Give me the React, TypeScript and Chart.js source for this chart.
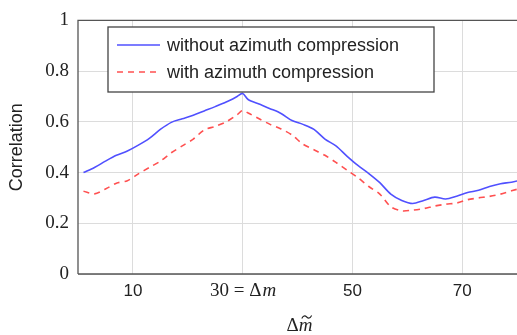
import React, { useEffect, useRef } from "react";
import { Chart, registerables } from "chart.js";

Chart.register(...registerables);

const xValues = [1, 3, 5, 7, 9, 11, 13, 15, 17, 19, 21, 23, 25, 27, 29, 30, 31, 33, 35, 37, 39, 41, 43, 45, 47, 49, 51, 53, 55, 57, 59, 61, 63, 65, 67, 69, 71, 73, 75, 77, 79, 81];

const withoutCompression = [0.400, 0.420, 0.445, 0.468, 0.485, 0.508, 0.535, 0.570, 0.598, 0.612, 0.626, 0.643, 0.660, 0.678, 0.700, 0.712, 0.688, 0.670, 0.652, 0.633, 0.605, 0.590, 0.570, 0.532, 0.505, 0.465, 0.428, 0.396, 0.360, 0.315, 0.290, 0.278, 0.290, 0.303, 0.296, 0.307, 0.321, 0.330, 0.345, 0.356, 0.362, 0.372];

const withCompression = [0.326, 0.316, 0.335, 0.358, 0.368, 0.395, 0.420, 0.445, 0.478, 0.505, 0.532, 0.568, 0.582, 0.600, 0.628, 0.645, 0.635, 0.612, 0.590, 0.572, 0.548, 0.512, 0.490, 0.468, 0.440, 0.410, 0.380, 0.345, 0.315, 0.265, 0.249, 0.252, 0.258, 0.268, 0.275, 0.280, 0.293, 0.300, 0.306, 0.315, 0.328, 0.340];

const seriesLabels = ["without azimuth compression", "with azimuth compression"];
const xTickValues = [10, 30, 50, 70];
const xTickLabels = ["10", "30", "50", "70"];
const yAxisTitle = "Correlation";

const BLUE = "rgb(80, 80, 255)";
const RED = "rgb(255, 80, 80)";

const overlay = {
  id: "overlay",
  afterDraw(chart: any) {
    const { ctx, chartArea, scales } = chart;
    const xs = scales.x;
    ctx.save();
    // frame
    ctx.strokeStyle = "#555";
    ctx.lineWidth = 1.3;
    ctx.beginPath();
    ctx.moveTo(chartArea.left, chartArea.bottom);
    ctx.lineTo(chartArea.left, chartArea.top);
    ctx.lineTo(chartArea.right, chartArea.top);
    ctx.moveTo(chartArea.left, chartArea.bottom);
    ctx.lineTo(chartArea.right, chartArea.bottom);
    ctx.stroke();

    // x tick labels
    ctx.fillStyle = "#222";
    ctx.textBaseline = "middle";
    const ty = chartArea.bottom + 17;
    xTickValues.forEach((v, i) => {
      const px = xs.getPixelForValue(v);
      if (v === 30) {
        const a = xTickLabels[i] + " = \u0394";
        const b = "m";
        ctx.font = "19px 'Liberation Serif', serif";
        const wa = ctx.measureText(a).width;
        ctx.font = "italic 19px 'Liberation Serif', serif";
        const wb = ctx.measureText(b).width;
        const sx = px - (wa + wb) / 2;
        ctx.textAlign = "left";
        ctx.font = "19px 'Liberation Serif', serif";
        ctx.fillText(a, sx, ty);
        ctx.font = "italic 19px 'Liberation Serif', serif";
        ctx.fillText(b, sx + wa + 1, ty);
      } else {
        ctx.textAlign = "center";
        ctx.font = "17px 'Liberation Sans', Arial, sans-serif";
        ctx.fillText(xTickLabels[i], px, ty);
      }
    });

    // x title
    {
      const cx = (chartArea.left + chartArea.right) / 2 + 2;
      const cy = 326;
      ctx.font = "19px 'Liberation Serif', serif";
      const wa = ctx.measureText("\u0394").width;
      ctx.font = "italic 19px 'Liberation Serif', serif";
      const wb = ctx.measureText("m").width;
      const sx = cx - (wa + wb) / 2;
      ctx.textAlign = "left";
      ctx.font = "19px 'Liberation Serif', serif";
      ctx.fillText("\u0394", sx, cy);
      ctx.font = "italic 19px 'Liberation Serif', serif";
      ctx.fillText("m", sx + wa, cy);
      // tilde over m
      const tx0 = sx + wa + wb * 0.22;
      const tw = wb * 0.72;
      const tyc = cy - 9;
      ctx.strokeStyle = "#222";
      ctx.lineWidth = 1.1;
      ctx.beginPath();
      ctx.moveTo(tx0, tyc + 1.5);
      ctx.bezierCurveTo(tx0 + tw * 0.2, tyc - 2.5, tx0 + tw * 0.4, tyc - 1, tx0 + tw * 0.5, tyc);
      ctx.bezierCurveTo(tx0 + tw * 0.6, tyc + 1, tx0 + tw * 0.8, tyc + 2.5, tx0 + tw, tyc - 1.5);
      ctx.stroke();
    }

    // y title
    ctx.save();
    ctx.translate(17, (chartArea.top + chartArea.bottom) / 2);
    ctx.rotate(-Math.PI / 2);
    ctx.textAlign = "center";
    ctx.fillStyle = "#222";
    ctx.font = "18px 'Liberation Sans', Arial, sans-serif";
    ctx.fillText(yAxisTitle, 0, 0);
    ctx.restore();

    // legend
    const lx = 108, ly = 27, lw = 326, lh = 65;
    ctx.fillStyle = "#fff";
    ctx.fillRect(lx, ly, lw, lh);
    ctx.strokeStyle = "#444";
    ctx.lineWidth = 1.3;
    ctx.strokeRect(lx, ly, lw, lh);
    const rows = [
      { color: BLUE, dash: [] as number[], y: ly + 18 },
      { color: RED, dash: [6, 5], y: ly + 45 },
    ];
    rows.forEach((r, i) => {
      ctx.strokeStyle = r.color;
      ctx.lineWidth = 1.6;
      ctx.setLineDash(r.dash);
      ctx.beginPath();
      ctx.moveTo(lx + 9, r.y);
      ctx.lineTo(lx + 52, r.y);
      ctx.stroke();
      ctx.setLineDash([]);
      ctx.fillStyle = "#222";
      ctx.textAlign = "left";
      ctx.textBaseline = "middle";
      ctx.font = "18px 'Liberation Sans', Arial, sans-serif";
      ctx.fillText(seriesLabels[i], lx + 59, r.y + 1);
    });
    ctx.restore();
  },
};

export default function App() {
  const ref = useRef<HTMLCanvasElement>(null);
  useEffect(() => {
    document.body.style.margin = "0";
    const chart = new Chart(ref.current!, {
      type: "line",
      data: {
        datasets: [
          {
            label: seriesLabels[0],
            data: xValues.map((x, i) => ({ x, y: withoutCompression[i] })),
            borderColor: BLUE,
            borderWidth: 1.6,
            pointRadius: 0,
            tension: 0.3,
            fill: false,
          },
          {
            label: seriesLabels[1],
            data: xValues.map((x, i) => ({ x, y: withCompression[i] })),
            borderColor: RED,
            borderWidth: 1.6,
            borderDash: [6, 5],
            pointRadius: 0,
            tension: 0.3,
            fill: false,
          },
        ],
      },
      options: {
        animation: false,
        responsive: false,
        layout: { padding: { left: 0, top: 14, right: 0, bottom: 0 } },
        plugins: { legend: { display: false }, tooltip: { enabled: false } },
        scales: {
          x: {
            type: "linear",
            min: 0,
            max: 80,
            afterBuildTicks: (s: any) => {
              s.ticks = xTickValues.map((v) => ({ value: v }));
            },
            afterFit: (s: any) => {
              s.height = 61;
            },
            ticks: { display: false },
            grid: { color: "#dcdcdc", lineWidth: 1, drawTicks: false },
            border: { display: false },
          },
          y: {
            min: 0,
            max: 1,
            afterFit: (s: any) => {
              s.width = 78;
            },
            ticks: {
              stepSize: 0.2,
              padding: 9,
              color: "#222",
              font: { family: "'Liberation Serif', serif", size: 19 },
              callback: (v: any) => String(Number(Number(v).toFixed(1))),
            },
            grid: { color: "#dcdcdc", lineWidth: 1, drawTicks: false },
            border: { display: false },
          },
        },
      },
      plugins: [overlay],
    });
    return () => chart.destroy();
  }, []);
  return (
    <div style={{ position: "fixed", left: 0, top: 0, width: 517, height: 335 }}>
      <canvas ref={ref} width={517} height={335} style={{ display: "block" }} />
    </div>
  );
}
